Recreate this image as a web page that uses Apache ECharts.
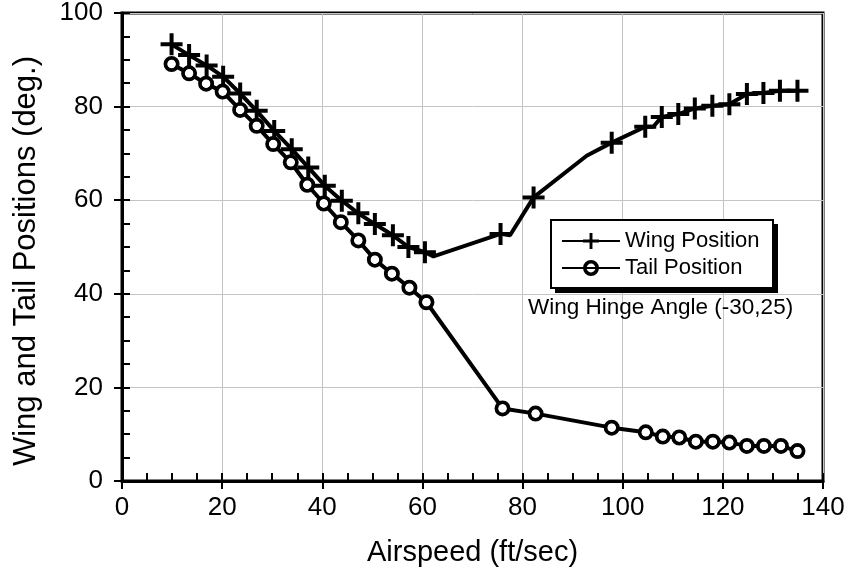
<!DOCTYPE html>
<html lang="en">
<head>
    <meta charset="UTF-8">
    <title>Wing and Tail Positions</title>
    <script src="https://cdn.jsdelivr.net/npm/echarts@6/dist/echarts.min.js"></script>
    <style>
        html, body { margin: 0; padding: 0; background: #fff; }
        #main { width: 848px; height: 577px; }
    </style>
</head>
<body>
<div id="main"></div>
<script type="text/javascript">
    // airspeed (ft/sec) and positions (deg.)
    var wingX = [9.9, 13.4, 16.9, 20.2, 23.6, 26.9, 30.4, 33.9, 37.2, 40.5, 43.9, 47.2, 50.5, 54.1, 57.2, 60.5,
                 62.2, 75.6, 77.5, 82.2, 92.8, 97.8, 104.5, 106.1, 107.8, 111.1, 114.4, 117.9, 121.3, 124.8, 128.1, 131.4, 134.9];
    var wingY = [93.3, 91.0, 88.8, 86.4, 82.8, 79.1, 74.8, 70.9, 67.0, 63.1, 59.9, 57.2, 54.9, 52.5, 50.0, 48.9,
                 48.0, 52.8, 52.5, 60.6, 69.5, 72.3, 75.7, 75.7, 77.8, 78.4, 79.6, 80.2, 80.5, 82.7, 82.9, 83.4, 83.4];
    // points of the wing curve drawn without a marker
    var wingUnmarked = [16, 18, 20, 23];

    var tailX = [9.9, 13.4, 16.8, 20.1, 23.6, 26.9, 30.2, 33.7, 37.0, 40.3, 43.7, 47.2, 50.5, 53.9, 57.4, 60.8,
                 76.0, 82.6, 97.8, 104.6, 108.0, 111.3, 114.6, 118.0, 121.3, 124.8, 128.2, 131.6, 134.9];
    var tailY = [89.1, 87.1, 84.9, 83.2, 79.3, 75.9, 72.0, 68.1, 63.3, 59.3, 55.3, 51.4, 47.3, 44.3, 41.3, 38.2,
                 15.5, 14.4, 11.4, 10.4, 9.5, 9.3, 8.4, 8.4, 8.2, 7.5, 7.5, 7.5, 6.4];

    var fontName = '"Liberation Sans", Arial, sans-serif';
    var plusPath = 'path://M9,0H13V9H22V13H13V22H9V13H0V9H9Z';
    // thick ring: outer circle one way, inner circle the other way
    var ringPath = 'path://M0,8a8,8 0 1,0 16,0a8,8 0 1,0 -16,0zM3.6,8a4.4,4.4 0 1,1 8.8,0a4.4,4.4 0 1,1 -8.8,0z';

    var wingData = wingX.map(function (x, i) {
        var item = { value: [x, wingY[i]] };
        if (wingUnmarked.indexOf(i) >= 0) item.symbol = 'none';
        return item;
    });
    var tailData = tailX.map(function (x, i) { return [x, tailY[i]]; });

    var myChart = echarts.init(document.getElementById('main'));

    var option = {
        animation: false,
        backgroundColor: '#fff',
        textStyle: { fontFamily: fontName, color: '#000' },
        title: {
            text: 'Wing Hinge Angle (-30,25)',
            left: 528, top: 296,
            padding: 0,
            textStyle: { fontFamily: fontName, fontSize: 22.5, fontWeight: 'normal', color: '#000' }
        },
        // legend frame with its drop shadow
        graphic: [{
            type: 'rect', z: 3,
            shape: { x: 555, y: 224, width: 223, height: 69 },
            style: { fill: '#000' }
        }, {
            type: 'rect', z: 3,
            shape: { x: 551, y: 220, width: 222, height: 68 },
            style: { fill: '#fff', stroke: '#000', lineWidth: 2 }
        }],
        legend: {
            orient: 'vertical',
            left: 561, top: 230,
            padding: 0,
            itemGap: 5,
            itemWidth: 58, itemHeight: 20,
            z: 5,
            textStyle: { fontFamily: fontName, fontSize: 22, color: '#000', padding: [0, 0, 0, 0] },
            data: ['Wing Position', 'Tail Position']
        },
        grid: {
            left: 122, right: 25, top: 12, bottom: 96,
            show: true, borderColor: '#000', borderWidth: 3, backgroundColor: 'transparent'
        },
        xAxis: [{
            type: 'value', min: 0, max: 140, interval: 20,
            name: 'Airspeed (ft/sec)', nameLocation: 'middle', nameGap: 57,
            nameTextStyle: { fontFamily: fontName, fontSize: 29, color: '#000' },
            axisLine: { show: true, onZero: false, lineStyle: { color: '#000', width: 3 } },
            axisTick: { show: true, inside: false, length: 8, lineStyle: { color: '#000', width: 2 } },
            axisLabel: { margin: 14, fontFamily: fontName, fontSize: 26, color: '#000' },
            splitLine: { show: true, lineStyle: { color: '#c4c4c4', width: 1 } }
        }, {
            type: 'value', min: 0, max: 140, interval: 5, position: 'bottom',
            axisLine: { show: false },
            axisTick: { show: true, inside: true, length: 8, lineStyle: { color: '#000', width: 2 } },
            axisLabel: { show: false },
            splitLine: { show: false }
        }],
        yAxis: [{
            type: 'value', min: 0, max: 100, interval: 20,
            name: 'Wing and Tail Positions (deg.)', nameLocation: 'middle', nameGap: 80,
            nameTextStyle: { fontFamily: fontName, fontSize: 31, color: '#000', padding: [0, 28, 0, 0] },
            axisLine: { show: true, onZero: false, lineStyle: { color: '#000', width: 3 } },
            axisTick: { show: true, inside: false, length: 8, lineStyle: { color: '#000', width: 2 } },
            axisLabel: { margin: 19, fontFamily: fontName, fontSize: 26, color: '#000' },
            splitLine: { show: true, lineStyle: { color: '#c4c4c4', width: 1 } }
        }, {
            type: 'value', min: 0, max: 100, interval: 5, position: 'left',
            axisLine: { show: false },
            axisTick: { show: true, inside: true, length: 8, lineStyle: { color: '#000', width: 2 } },
            axisLabel: { show: false },
            splitLine: { show: false }
        }],
        series: [{
            name: 'Wing Position',
            type: 'line',
            data: wingData,
            symbol: plusPath,
            symbolSize: 22,
            showAllSymbol: true,
            lineStyle: { color: '#000', width: 4 },
            itemStyle: { color: '#000' },
            z: 3
        }, {
            name: 'Tail Position',
            type: 'line',
            data: tailData,
            symbol: ringPath,
            symbolSize: 14,
            showAllSymbol: true,
            lineStyle: { color: '#000', width: 4 },
            itemStyle: { color: '#000' },
            z: 2
        }, {
            // white centres so the line does not show inside the rings
            name: 'tail fill',
            type: 'scatter',
            data: tailData,
            symbol: 'circle',
            symbolSize: 9,
            itemStyle: { color: '#fff', opacity: 1 },
            z: 4
        }, {
            name: 'tail ring',
            type: 'scatter',
            data: tailData,
            symbol: ringPath,
            symbolSize: 16,
            itemStyle: { color: '#000', opacity: 1 },
            z: 5
        }]
    };
    myChart.setOption(option);
</script>
</body>
</html>
